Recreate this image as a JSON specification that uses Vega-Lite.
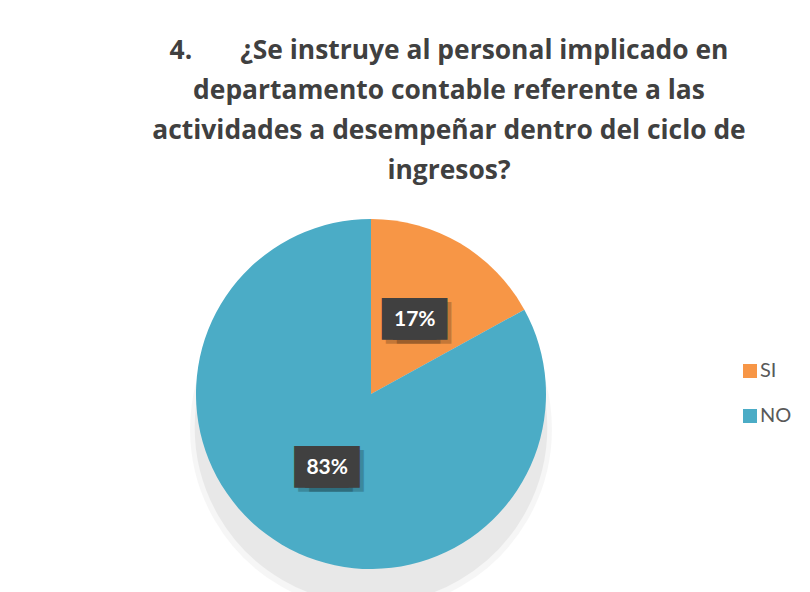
{
  "$schema": "https://vega.github.io/schema/vega-lite/v6.json",
  "width": 350,
  "height": 350,
  "autosize": "none",
  "padding": {"left": 196, "top": 219, "right": 264, "bottom": 23},
  "background": "#ffffff",
  "config": {"view": {"stroke": null}},
  "title": {
    "text": ["4.\u00a0\u00a0\u00a0\u00a0\u00a0\u00a0\u00a0¿Se instruye al personal implicado en", "departamento contable referente a las", "actividades a desempeñar dentro del ciclo de", "ingresos?"],
    "font": "Open Sans",
    "fontSize": 26.4,
    "fontWeight": "bold",
    "color": "#404040",
    "lineHeight": 40,
    "anchor": "middle",
    "dx": 78,
    "offset": -31
  },
  "data": {
    "values": [
      {"respuesta": "SI", "pct": 0.17},
      {"respuesta": "NO", "pct": 0.83}
    ]
  },
  "layer": [
    {
      "data": {"values": [{"sombra": 1}]},
      "mark": {"type": "text", "text": "●", "font": "DejaVu Sans", "fontSize": 490, "color": "#000000", "opacity": 0, "dy": 4}
    },
    {
      "data": {"values": [{"sombra": 1}]},
      "mark": {"type": "text", "text": "●", "font": "DejaVu Sans", "fontSize": 474, "color": "#000000", "opacity": 0.03, "dy": 16}
    },
    {
      "data": {"values": [{"sombra": 1}]},
      "mark": {"type": "text", "text": "●", "font": "DejaVu Sans", "fontSize": 462, "color": "#000000", "opacity": 0.05, "dy": 14}
    },
    {
      "mark": {"type": "arc"},
      "encoding": {
        "theta": {"field": "pct", "type": "quantitative", "stack": true},
        "order": {"field": "pct", "type": "quantitative", "sort": "ascending"},
        "color": {
          "field": "respuesta",
          "type": "nominal",
          "scale": {"domain": ["SI", "NO"], "range": ["#F79646", "#4BACC6"]},
          "legend": {
            "title": null,
            "orient": "none",
            "legendX": 544,
            "legendY": 142,
            "padding": 0,
            "symbolType": "square",
            "symbolSize": 196,
            "symbolStrokeWidth": 0,
            "labelFont": "Lato",
            "labelFontSize": 20,
            "labelColor": "#595959",
            "labelOffset": 0,
            "rowPadding": 25
          }
        }
      }
    },
    {
      "mark": {"type": "text", "text": "██", "font": "DejaVu Sans", "fontSize": 35, "color": "#000000", "opacity": 0.2, "dx": -1.5, "dy": 4, "radius": 86},
      "encoding": {
        "theta": {"field": "pct", "type": "quantitative", "stack": true},
        "order": {"field": "pct", "type": "quantitative", "sort": "ascending"}
      }
    },
    {
      "mark": {"type": "text", "text": "██", "font": "DejaVu Sans", "fontSize": 35, "color": "#000000", "opacity": 0.2, "dx": 9.5, "dy": 4, "radius": 86},
      "encoding": {
        "theta": {"field": "pct", "type": "quantitative", "stack": true},
        "order": {"field": "pct", "type": "quantitative", "sort": "ascending"}
      }
    },
    {
      "mark": {"type": "text", "text": "██", "font": "DejaVu Sans", "fontSize": 35, "color": "#404040", "dx": -5.5, "radius": 86},
      "encoding": {
        "theta": {"field": "pct", "type": "quantitative", "stack": true},
        "order": {"field": "pct", "type": "quantitative", "sort": "ascending"}
      }
    },
    {
      "mark": {"type": "text", "text": "██", "font": "DejaVu Sans", "fontSize": 35, "color": "#404040", "dx": 5.5, "radius": 86},
      "encoding": {
        "theta": {"field": "pct", "type": "quantitative", "stack": true},
        "order": {"field": "pct", "type": "quantitative", "sort": "ascending"}
      }
    },
    {
      "mark": {"type": "text", "font": "Lato", "fontSize": 21, "fontWeight": "bold", "color": "#ffffff", "radius": 86},
      "encoding": {
        "theta": {"field": "pct", "type": "quantitative", "stack": true},
        "order": {"field": "pct", "type": "quantitative", "sort": "ascending"},
        "text": {"field": "pct", "type": "quantitative", "format": ".0%"}
      }
    }
  ]
}
